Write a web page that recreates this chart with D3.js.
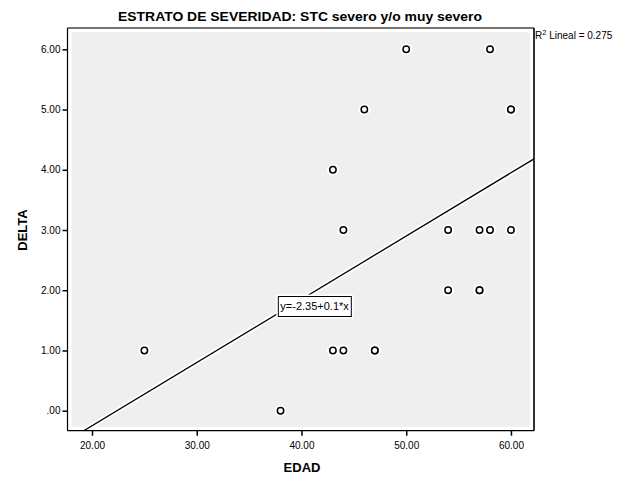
<!DOCTYPE html>
<html>
<head>
<meta charset="utf-8">
<script src="https://cdn.jsdelivr.net/npm/d3@7"></script>
<style>
  html, body { margin: 0; padding: 0; background: #fff; }
  svg { display: block; font-family: "Liberation Sans", Arial, sans-serif; }
</style>
</head>
<body>
<svg id="chart" width="635" height="480"></svg>
<script>
// ---- data ----
const edad  = [25, 38, 43, 44, 43, 44, 47, 47, 46, 50, 58, 60, 60, 54, 57, 58, 60, 54, 57, 57];
const delta = [1,  0,  4,  3,  1,  1,  1,  1,  5,  6,  6,  5,  5,  3,  3,  3,  3,  2,  2,  2];
const xTicks = [20, 30, 40, 50, 60];
const xTickLabels = ["20.00", "30.00", "40.00", "50.00", "60.00"];
const yTicks = [0, 1, 2, 3, 4, 5, 6];
const yTickLabels = [".00", "1.00", "2.00", "3.00", "4.00", "5.00", "6.00"];
const fitIntercept = -2.35;
const fitSlope = 0.105;
const fitLabel = "y=-2.35+0.1*x";
const r2Label = "Lineal = 0.275";
const titleText = "ESTRATO DE SEVERIDAD: STC severo y/o muy severo";
const xTitle = "EDAD";
const yTitle = "DELTA";

// ---- layout ----
const svg = d3.select("#chart");
const L = 67.5, R = 534, T = 28, B = 430.7;
const x = d3.scaleLinear().domain([17.66, 62.2]).range([L, R]);
const y = d3.scaleLinear().domain([-0.332, 6.354]).range([B, T]);

// inner panel
svg.append("rect")
  .attr("x", L + 4).attr("y", T + 4)
  .attr("width", R - L - 8).attr("height", B - T - 8)
  .attr("rx", 3)
  .attr("fill", "#efefef");

// clip
svg.append("clipPath").attr("id", "clip")
  .append("rect").attr("x", L).attr("y", T).attr("width", R - L).attr("height", B - T);

// fit line
const x0 = x.domain()[0], x1 = x.domain()[1];
const linePts = [[x0, fitIntercept + fitSlope * x0], [x1, fitIntercept + fitSlope * x1]];
const lineGen = d3.line().x(d => x(d[0])).y(d => y(d[1]));
const lg = svg.append("g").attr("clip-path", "url(#clip)");
lg.append("path").attr("d", lineGen(linePts)).attr("stroke", "#fff").attr("stroke-width", 5).attr("fill", "none");
lg.append("path").attr("d", lineGen(linePts)).attr("stroke", "#000").attr("stroke-width", 1.3).attr("fill", "none");

// points
const pts = edad.map((e, i) => ({ x: e, y: delta[i] }));
const pg = svg.append("g");
pg.selectAll("circle.halo").data(pts).join("circle")
  .attr("class", "halo")
  .attr("cx", d => x(d.x)).attr("cy", d => y(d.y)).attr("r", 3.4)
  .attr("fill", "#fff").attr("stroke", "#fff").attr("stroke-width", 5);
pg.selectAll("circle.pt").data(pts).join("circle")
  .attr("class", "pt")
  .attr("cx", d => x(d.x)).attr("cy", d => y(d.y)).attr("r", 3.2)
  .attr("fill", "#fff").attr("stroke", "#000").attr("stroke-width", 1.5);

// fit label box
const lbx = 41.25, lby = 1.73;
const lblG = svg.append("g").attr("transform", `translate(${x(lbx)},${y(lby)})`);
const lblT = lblG.append("text").attr("text-anchor", "middle").attr("dy", "0.35em")
  .attr("font-size", 11).attr("fill", "#000").text(fitLabel);
const bb = lblT.node().getBBox();
lblG.insert("rect", "text")
  .attr("x", bb.x - 2).attr("y", -10).attr("width", bb.width + 4).attr("height", 20)
  .attr("fill", "#fff").attr("stroke", "#fff").attr("stroke-width", 4);
lblG.insert("rect", "text")
  .attr("x", bb.x - 2).attr("y", -10).attr("width", bb.width + 4).attr("height", 20)
  .attr("fill", "#fff").attr("stroke", "#000").attr("stroke-width", 1);

// frame
svg.append("line").attr("x1", L).attr("x2", R).attr("y1", T).attr("y2", T).attr("stroke", "#444").attr("stroke-width", 1.5);
svg.append("line").attr("x1", R).attr("x2", R).attr("y1", T).attr("y2", B).attr("stroke", "#000").attr("stroke-width", 1.6);

// axes
const xAxis = d3.axisBottom(x).tickValues(xTicks).tickFormat((d, i) => xTickLabels[i]).tickSize(5).tickSizeOuter(0);
const yAxis = d3.axisLeft(y).tickValues(yTicks).tickFormat((d, i) => yTickLabels[i]).tickSize(5).tickSizeOuter(0);
const gx = svg.append("g").attr("transform", `translate(0,${B})`).call(xAxis);
const gy = svg.append("g").attr("transform", `translate(${L},0)`).call(yAxis);
[gx, gy].forEach(g => {
  g.select(".domain").remove();
  g.selectAll(".tick line").attr("stroke", "#000").attr("stroke-width", 1.5);
  g.selectAll(".tick text").attr("font-size", 10).attr("fill", "#000")
    .attr("font-family", "'Liberation Sans', Arial, sans-serif");
});
gx.selectAll(".tick text").attr("dy", "1.05em");
gy.selectAll(".tick text").attr("x", -7);
svg.append("line").attr("x1", L).attr("x2", R).attr("y1", B).attr("y2", B).attr("stroke", "#000").attr("stroke-width", 1.2);
svg.append("line").attr("x1", L).attr("x2", L).attr("y1", T).attr("y2", B).attr("stroke", "#000").attr("stroke-width", 1.2);

// titles
svg.append("text").attr("x", 300).attr("y", 21).attr("text-anchor", "middle")
  .attr("font-size", 12).attr("font-weight", "bold").attr("textLength", 364).attr("lengthAdjust", "spacingAndGlyphs")
  .text(titleText);
svg.append("text").attr("x", 302).attr("y", 472).attr("text-anchor", "middle")
  .attr("font-size", 13).attr("font-weight", "bold").text(xTitle);
svg.append("text").attr("transform", "translate(27,230) rotate(-90)").attr("text-anchor", "middle")
  .attr("font-size", 13).attr("font-weight", "bold").text(yTitle);

// R2 label
const r2 = svg.append("text").attr("x", 535).attr("y", 39).attr("font-size", 10).attr("fill", "#000");
r2.append("tspan").text("R");
r2.append("tspan").attr("dy", -4).attr("font-size", 7.5).text("2");
r2.append("tspan").attr("dy", 4).text(" " + r2Label);
</script>
</body>
</html>
